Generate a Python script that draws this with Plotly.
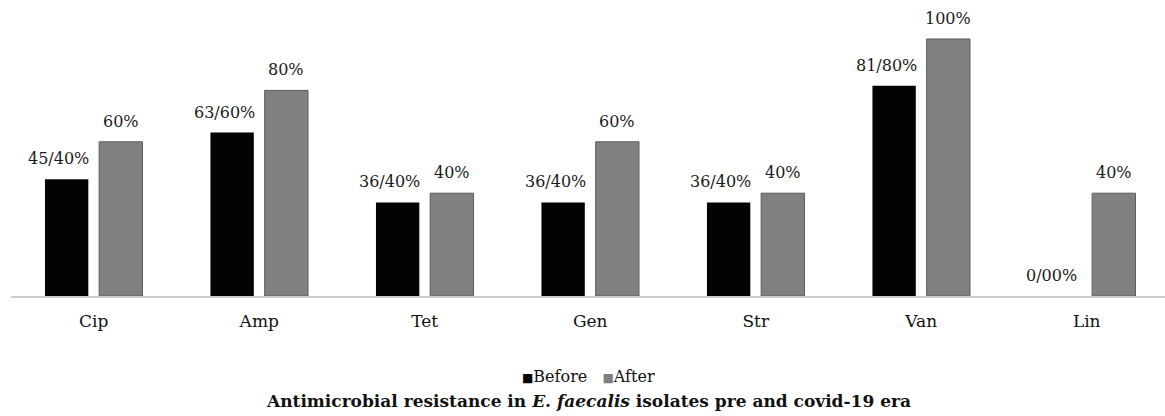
import plotly.graph_objects as go

categories = ["Cip", "Amp", "Tet", "Gen", "Str", "Van", "Lin"]
before_vals = [45.4, 63.6, 36.4, 36.4, 36.4, 81.8, 0.0]
after_vals = [60, 80, 40, 60, 40, 100, 40]
before_labels = ["45/40%", "63/60%", "36/40%", "36/40%", "36/40%", "81/80%", "0/00%"]
after_labels = ["60%", "80%", "40%", "60%", "40%", "100%", "40%"]
series_names = ["Before", "After"]
series_colors = ["#030303", "#808080"]

FONT = "DejaVu Serif"

fig = go.Figure()
fig.add_trace(go.Bar(x=categories, y=before_vals, name=series_names[0],
                     marker=dict(color=series_colors[0], line=dict(width=0))))
fig.add_trace(go.Bar(x=categories, y=after_vals, name=series_names[1],
                     marker=dict(color=series_colors[1], line=dict(color="#5e5e5e", width=1))))

annotations = []
for i, c in enumerate(categories):
    annotations.append(dict(x=c, y=before_vals[i], xref="x", yref="y", text=before_labels[i],
                            showarrow=False, yanchor="bottom", yshift=9, xshift=-35,
                            font=dict(family=FONT, size=16, color="#1a1a1a")))
    annotations.append(dict(x=c, y=after_vals[i], xref="x", yref="y", text=after_labels[i],
                            showarrow=False, yanchor="bottom", yshift=9, xshift=27,
                            font=dict(family=FONT, size=16, color="#1a1a1a")))

legend_text = (f"<span style='color:{series_colors[0]};font-size:12px'>■</span>{series_names[0]}"
               f"&nbsp;&nbsp;&nbsp;<span style='color:{series_colors[1]};font-size:12px'>■</span>{series_names[1]}")
annotations.append(dict(x=0.5, y=-0.283, xref="paper", yref="paper", text=legend_text,
                        showarrow=False, xanchor="center", yanchor="middle",
                        font=dict(family=FONT, size=16, color="#111111")))
annotations.append(dict(x=0.5, y=-0.372, xref="paper", yref="paper",
                        text="<b>Antimicrobial resistance in <i>E. faecalis</i> isolates pre and covid-19 era</b>",
                        showarrow=False, xanchor="center", yanchor="middle",
                        font=dict(family=FONT, size=17, color="#111111")))

fig.update_layout(
    width=1165, height=416,
    margin=dict(l=11, r=0, t=13, b=120),
    paper_bgcolor="white", plot_bgcolor="white",
    barmode="group", bargap=0.345, bargroupgap=0.2,
    showlegend=False,
    annotations=annotations,
    font=dict(family=FONT),
)
fig.update_xaxes(range=[-0.5, 6.473], showline=True, linecolor="#cfcfcf", linewidth=1.5,
                 ticks="", showgrid=False, tickfont=dict(family=FONT, size=17, color="#111111"),
                 ticklabelstandoff=9)
fig.update_yaxes(range=[0, 110.1], visible=False, showgrid=False, zeroline=False)

fig.write_html("out.html")
